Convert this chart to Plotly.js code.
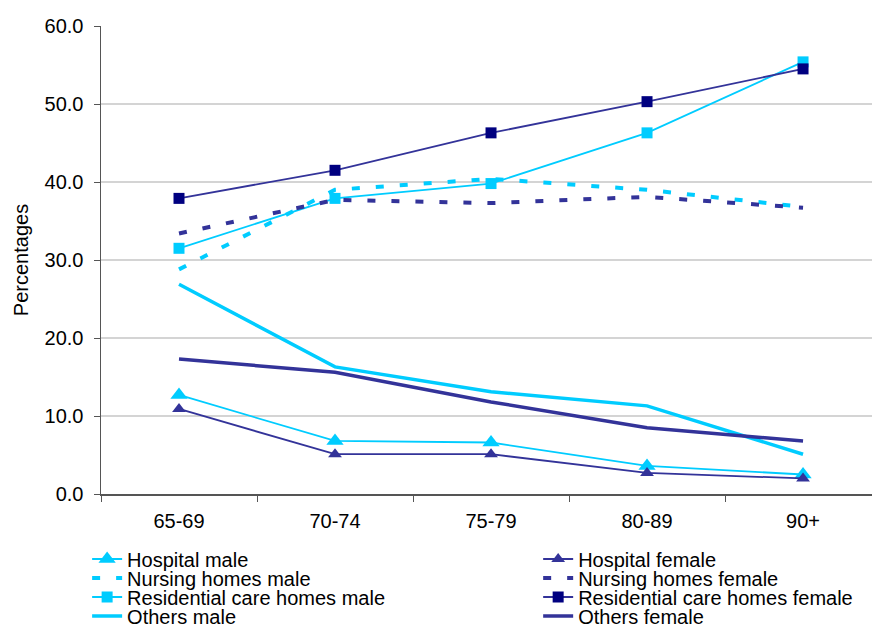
<!DOCTYPE html>
<html><head><meta charset="utf-8">
<script src="https://cdn.plot.ly/plotly-3.0.1.min.js"></script>
<style>body{margin:0;background:#fff}#chart{width:872px;height:626px}</style>
</head><body><div id="chart"></div>
<script>
const ageGroups = ["65-69","70-74","75-79","80-89","90+"];
const hospitalMale = [12.7, 6.8, 6.6, 3.6, 2.5];
const hospitalFemale = [10.9, 5.1, 5.1, 2.7, 2.0];
const nursingMale = [28.8, 39.0, 40.4, 39.0, 36.8];
const nursingFemale = [33.4, 37.7, 37.3, 38.1, 36.7];
const residentialMale = [31.5, 37.9, 39.8, 46.3, 55.4];
const residentialFemale = [37.9, 41.5, 46.3, 50.3, 54.5];
const othersMale = [26.9, 16.3, 13.1, 11.3, 5.1];
const othersFemale = [17.3, 15.6, 11.8, 8.5, 6.8];
const yTicks = [0,10,20,30,40,50,60];

const LIGHT = "#00CCFF", DARK = "#333399", NAVY = "#000080";
const traces = [
  {name:"Hospital male", y:hospitalMale, mode:"lines+markers", line:{color:LIGHT,width:1.8}, marker:{symbol:"triangle-up",size:15,color:LIGHT}, legend:"legend"},
  {name:"Nursing homes male", y:nursingMale, mode:"lines", line:{color:LIGHT,width:4,dash:"8px,16px"}, legend:"legend2"},
  {name:"Residential care homes male", y:residentialMale, mode:"lines+markers", line:{color:LIGHT,width:1.8}, marker:{symbol:"square",size:11,color:LIGHT}, legend:"legend3"},
  {name:"Others male", y:othersMale, mode:"lines", line:{color:LIGHT,width:3.5}, legend:"legend4"},
  {name:"Hospital female", y:hospitalFemale, mode:"lines+markers", line:{color:DARK,width:1.8}, marker:{symbol:"triangle-up",size:12,color:DARK}, legend:"legend5"},
  {name:"Nursing homes female", y:nursingFemale, mode:"lines", line:{color:DARK,width:4,dash:"8px,16px"}, legend:"legend6"},
  {name:"Residential care homes female", y:residentialFemale, mode:"lines+markers", line:{color:DARK,width:1.8}, marker:{symbol:"square",size:11,color:NAVY}, legend:"legend7"},
  {name:"Others female", y:othersFemale, mode:"lines", line:{color:DARK,width:3.5}, legend:"legend8"}
].map(t => Object.assign({type:"scatter", x:ageGroups}, t));

const FONT = "Liberation Sans, Arial, sans-serif";
function mkLegend(col, row){
  return {orientation:"v", yanchor:"middle", xanchor:"left", x:(col===0 ? -0.018 : 0.567), y:(494-(559+19*row))/468,
    itemwidth:30, bgcolor:"rgba(0,0,0,0)", font:{family:FONT, size:20, color:"#000"}};
}
const layout = {
  width:872, height:626,
  margin:{l:101, r:0, t:26, b:132, autoexpand:false},
  paper_bgcolor:"#fff", plot_bgcolor:"#fff",
  font:{family:FONT, size:21, color:"#000"},
  xaxis:{type:"category", range:[-0.5, 4.442], tickson:"boundaries", ticks:"outside", ticklen:6, tickcolor:"#555", showline:true, linecolor:"#555", linewidth:1.5, showgrid:false, tickfont:{size:20}, ticklabelstandoff:8, fixedrange:true},
  yaxis:{range:[0,60], tickvals:yTicks, tickformat:".1f", ticks:"outside", ticklen:6, tickcolor:"#555", showline:true, linecolor:"#555", linewidth:1.5, gridcolor:"#d4d4d4", gridwidth:1.5, zeroline:false, tickfont:{size:20}, ticklabelstandoff:6, title:{text:"Percentages", font:{size:20}, standoff:10}},
  showlegend:true,
  legend:mkLegend(0,0), legend2:mkLegend(0,1), legend3:mkLegend(0,2), legend4:mkLegend(0,3),
  legend5:mkLegend(1,0), legend6:mkLegend(1,1), legend7:mkLegend(1,2), legend8:mkLegend(1,3)
};
Plotly.newPlot("chart", traces, layout, {displayModeBar:false, staticPlot:true});
</script></body></html>
